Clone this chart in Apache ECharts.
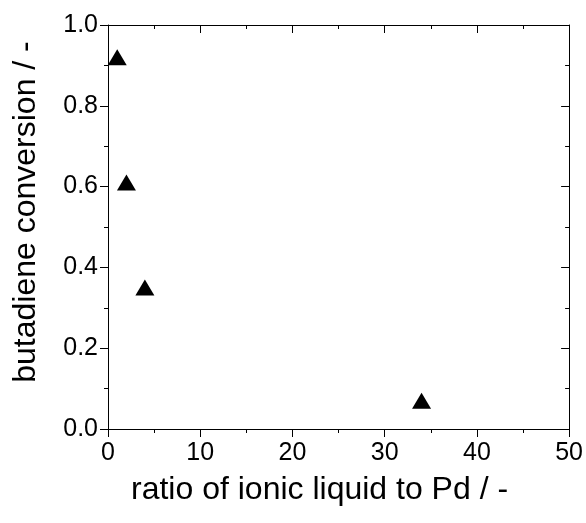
<!DOCTYPE html>
<html>
<head>
<meta charset="utf-8">
<script src="https://cdn.jsdelivr.net/npm/echarts@6/dist/echarts.min.js"></script>
<style>
html,body{margin:0;padding:0;background:#fff;}
#chart{width:586px;height:523px;}
</style>
</head>
<body>
<div id="chart"></div>
<script>
const ratioValues = [1, 2, 4, 34];
const conversionValues = [0.92, 0.61, 0.35, 0.07];
const xTitle = 'ratio of ionic liquid to Pd / -';
const yTitle = 'butadiene conversion / -';

const points = ratioValues.map((x, i) => [x, conversionValues[i]]);
const font = '"Liberation Sans", Arial, sans-serif';
const lineStyle = { color: '#000', width: 1 };

const chart = echarts.init(document.getElementById('chart'), null, { renderer: 'canvas' });
chart.setOption({
  animation: false,
  backgroundColor: '#fff',
  grid: { left: 108, right: 16, top: 25, bottom: 94, containLabel: false },
  xAxis: [
    {
      type: 'value', min: 0, max: 50, interval: 10, position: 'bottom',
      name: xTitle, nameLocation: 'middle', nameGap: 45,
      nameTextStyle: { fontFamily: font, fontSize: 32, color: '#000', padding: [0, 38, 0, 0] },
      axisLine: { show: true, onZero: false, lineStyle },
      axisTick: { show: true, inside: false, length: 8, lineStyle },
      minorTick: { show: true, splitNumber: 2, length: 4, lineStyle },
      axisLabel: { fontFamily: font, fontSize: 25, color: '#000', margin: 12 },
      splitLine: { show: false }
    },
    {
      type: 'value', min: 0, max: 50, interval: 10, position: 'top',
      axisLine: { show: true, onZero: false, lineStyle },
      axisTick: { show: true, inside: true, length: 8, lineStyle },
      minorTick: { show: true, splitNumber: 2, length: 4, lineStyle },
      axisLabel: { show: false },
      splitLine: { show: false }
    }
  ],
  yAxis: [
    {
      type: 'value', min: 0, max: 1, interval: 0.2, position: 'left',
      name: yTitle, nameLocation: 'middle', nameGap: 66,
      nameTextStyle: { fontFamily: font, fontSize: 32, color: '#000', padding: [0, 0, 0, 30] },
      axisLine: { show: true, onZero: false, lineStyle },
      axisTick: { show: true, inside: false, length: 8, lineStyle },
      minorTick: { show: true, splitNumber: 2, length: 4, lineStyle },
      axisLabel: { fontFamily: font, fontSize: 25, color: '#000', margin: 10,
        formatter: v => v.toFixed(1) },
      splitLine: { show: false }
    },
    {
      type: 'value', min: 0, max: 1, interval: 0.2, position: 'right',
      axisLine: { show: true, onZero: false, lineStyle },
      axisTick: { show: true, inside: true, length: 8, lineStyle },
      minorTick: { show: true, splitNumber: 2, length: 4, lineStyle },
      axisLabel: { show: false },
      splitLine: { show: false }
    }
  ],
  series: [
    {
      type: 'scatter', xAxisIndex: 0, yAxisIndex: 0,
      data: points,
      symbol: 'triangle', symbolSize: [19, 16],
      itemStyle: { color: '#000', opacity: 1 }
    }
  ]
});
</script>
</body>
</html>
